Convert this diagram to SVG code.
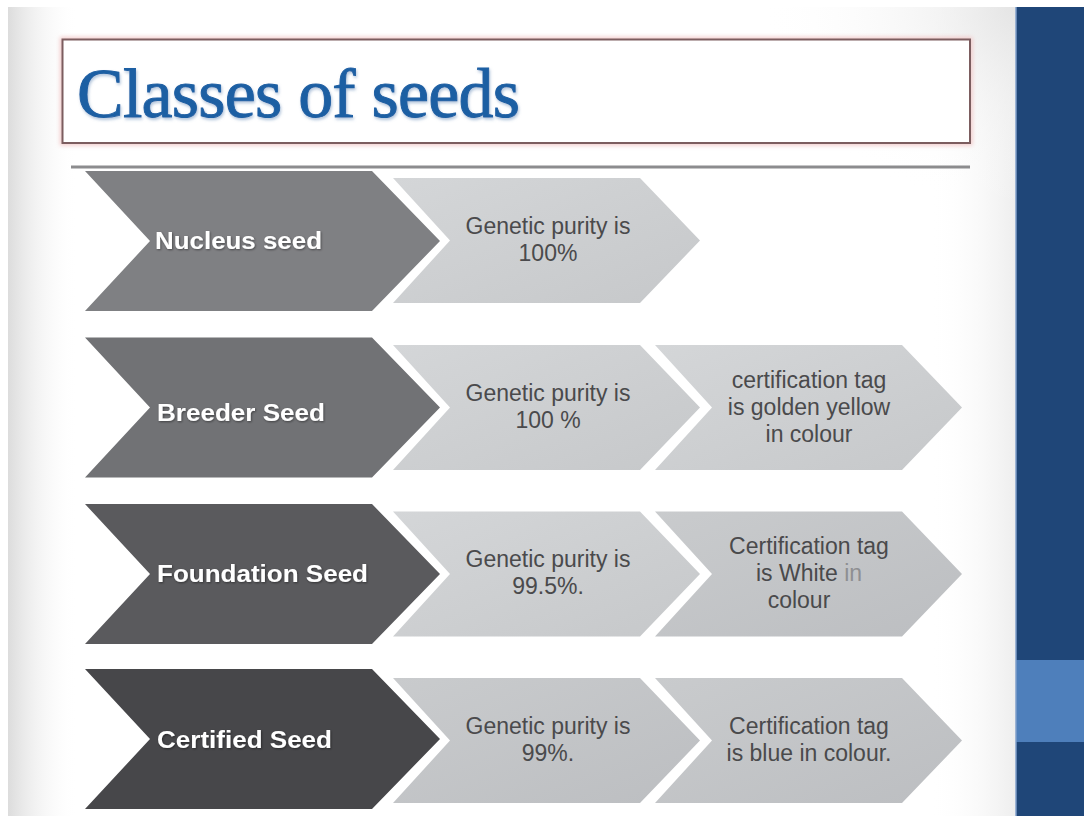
<svg xmlns="http://www.w3.org/2000/svg" xmlns:xlink="http://www.w3.org/1999/xlink" width="1084" height="816" viewBox="0 0 1084 816">
  <style>
    .title { font-family: "Liberation Serif", "DejaVu Serif", serif; font-size: 70px; fill: #1d5fa3; stroke: #1d5fa3; stroke-width: 0.9px; }
    .cls { font-family: "Liberation Sans", Arial, sans-serif; font-size: 24px; font-weight: bold; fill: #ffffff; }
    .info { font-family: "Liberation Sans", Arial, sans-serif; font-size: 23px; fill: #4a4a4c; text-anchor: middle; }
    .faint { fill: #8e8f92; }
  </style>
  <defs>
    <!-- slide vignette -->
    <linearGradient id="leftShade" x1="0" y1="0" x2="1" y2="0">
      <stop offset="0" stop-color="#dcdcdc"/>
      <stop offset="1" stop-color="#ffffff" stop-opacity="0"/>
    </linearGradient>
    <linearGradient id="rightShade" x1="0" y1="0" x2="1" y2="0">
      <stop offset="0" stop-color="#ffffff" stop-opacity="0"/>
      <stop offset="1" stop-color="#e6e6e6"/>
    </linearGradient>
    <radialGradient id="cornerShade" cx="1" cy="0" r="1">
      <stop offset="0" stop-color="#e2e2e2"/>
      <stop offset="1" stop-color="#ffffff" stop-opacity="0"/>
    </radialGradient>
    <linearGradient id="lightFill" x1="0" y1="0" x2="1" y2="1">
      <stop offset="0" stop-color="#d4d6d8"/>
      <stop offset="1" stop-color="#c6c8ca"/>
    </linearGradient>
    <linearGradient id="lightFillDark" x1="0" y1="0" x2="1" y2="1">
      <stop offset="0" stop-color="#c9cbcd"/>
      <stop offset="1" stop-color="#bcbec1"/>
    </linearGradient>
    <filter id="titleShadow" x="-5%" y="-20%" width="110%" height="150%">
      <feDropShadow dx="1" dy="2" stdDeviation="1.6" flood-color="#6f93bd" flood-opacity="0.55"/>
    </filter>
    <filter id="labelShadow" x="-5%" y="-30%" width="110%" height="160%">
      <feDropShadow dx="0.8" dy="1" stdDeviation="0.8" flood-color="#000000" flood-opacity="0.45"/>
    </filter>
    <filter id="soft" x="-5%" y="-20%" width="110%" height="140%">
      <feGaussianBlur stdDeviation="2"/>
    </filter>
    <!-- class chevron (notched tail, pointed head) centred on y=0 -->
    <path id="classChevron" d="M85,-70 L372,-70 L440,0 L372,70 L85,70 L150,0 Z"/>
    <!-- detail chevron centred on y=0 -->
    <path id="infoChevron" d="M393,-62.5 L640,-62.5 L700,0 L640,62.5 L393,62.5 L450,0 Z"/>
  </defs>

  <!-- page and slide background -->
  <rect x="0" y="0" width="1084" height="816" fill="#ffffff"/>
  <rect x="8" y="7" width="1008" height="809" fill="#ffffff"/>
  <rect x="8" y="7" width="70" height="809" fill="url(#leftShade)"/>
  <rect x="930" y="7" width="86" height="809" fill="url(#rightShade)" opacity="0.7"/>
  <rect x="760" y="7" width="256" height="200" fill="url(#cornerShade)" opacity="0.8"/>

  <!-- side band -->
  <g id="side-band">
    <rect x="1016" y="7" width="68" height="809" fill="#1f4678"/>
    <rect x="1016" y="660" width="68" height="82" fill="#4e7fbb"/>
    <line x1="1016" y1="7" x2="1016" y2="816" stroke="#7f9fcb" stroke-width="1.5"/>
  </g>

  <!-- title -->
  <g id="title">
    <rect x="62.5" y="39.5" width="907.5" height="103.5" fill="none" stroke="#f2c9c9" stroke-width="5" filter="url(#soft)"/>
    <rect x="62.5" y="39.5" width="907.5" height="103.5" fill="#ffffff" stroke="#7c5d5f" stroke-width="2"/>
    <text class="title" x="77" y="117" textLength="443" filter="url(#titleShadow)">Classes of seeds</text>
  </g>
  <line id="title-rule" x1="71" y1="167" x2="970" y2="167" stroke="#8c8c8e" stroke-width="3"/>

  <!-- row 1: nucleus seed -->
  <g id="nucleus-seed">
    <use xlink:href="#classChevron" y="241" fill="#7f8083"/>
    <text class="cls" x="155" y="249" textLength="167" lengthAdjust="spacingAndGlyphs" filter="url(#labelShadow)">Nucleus seed</text>
  </g>
  <g id="nucleus-purity">
    <use xlink:href="#infoChevron" y="240.5" fill="url(#lightFill)"/>
    <text class="info" x="548" y="234">Genetic purity is</text>
    <text class="info" x="548" y="261">100%</text>
  </g>

  <!-- row 2: breeder seed -->
  <g id="breeder-seed">
    <use xlink:href="#classChevron" y="407.5" fill="#717275"/>
    <text class="cls" x="157" y="421" textLength="168" lengthAdjust="spacingAndGlyphs" filter="url(#labelShadow)">Breeder Seed</text>
  </g>
  <g id="breeder-purity">
    <use xlink:href="#infoChevron" y="407.5" fill="url(#lightFill)"/>
    <text class="info" x="548" y="401">Genetic purity is</text>
    <text class="info" x="548" y="428">100 %</text>
  </g>
  <g id="breeder-tag">
    <use xlink:href="#infoChevron" x="262" y="407.5" fill="url(#lightFill)"/>
    <text class="info" x="809" y="388">certification tag</text>
    <text class="info" x="809" y="415">is golden yellow</text>
    <text class="info" x="809" y="442">in colour</text>
  </g>

  <!-- row 3: foundation seed -->
  <g id="foundation-seed">
    <use xlink:href="#classChevron" y="574" fill="#5a5a5d"/>
    <text class="cls" x="157" y="582" textLength="211" lengthAdjust="spacingAndGlyphs" filter="url(#labelShadow)">Foundation Seed</text>
  </g>
  <g id="foundation-purity">
    <use xlink:href="#infoChevron" y="574" fill="url(#lightFill)"/>
    <text class="info" x="548" y="567">Genetic purity is</text>
    <text class="info" x="548" y="594">99.5%.</text>
  </g>
  <g id="foundation-tag">
    <use xlink:href="#infoChevron" x="262" y="574" fill="url(#lightFillDark)"/>
    <text class="info" x="809" y="554">Certification tag</text>
    <text class="info" x="809" y="581">is White <tspan class="faint">in</tspan></text>
    <text class="info" x="799" y="608">colour</text>
  </g>

  <!-- row 4: certified seed -->
  <g id="certified-seed">
    <use xlink:href="#classChevron" y="739" fill="#47474a"/>
    <text class="cls" x="157" y="748" textLength="175" lengthAdjust="spacingAndGlyphs" filter="url(#labelShadow)">Certified Seed</text>
  </g>
  <g id="certified-purity">
    <use xlink:href="#infoChevron" y="740.5" fill="url(#lightFillDark)"/>
    <text class="info" x="548" y="734">Genetic purity is</text>
    <text class="info" x="548" y="761">99%.</text>
  </g>
  <g id="certified-tag">
    <use xlink:href="#infoChevron" x="262" y="740.5" fill="url(#lightFillDark)"/>
    <text class="info" x="809" y="734">Certification tag</text>
    <text class="info" x="809" y="761">is blue in colour.</text>
  </g>
</svg>
